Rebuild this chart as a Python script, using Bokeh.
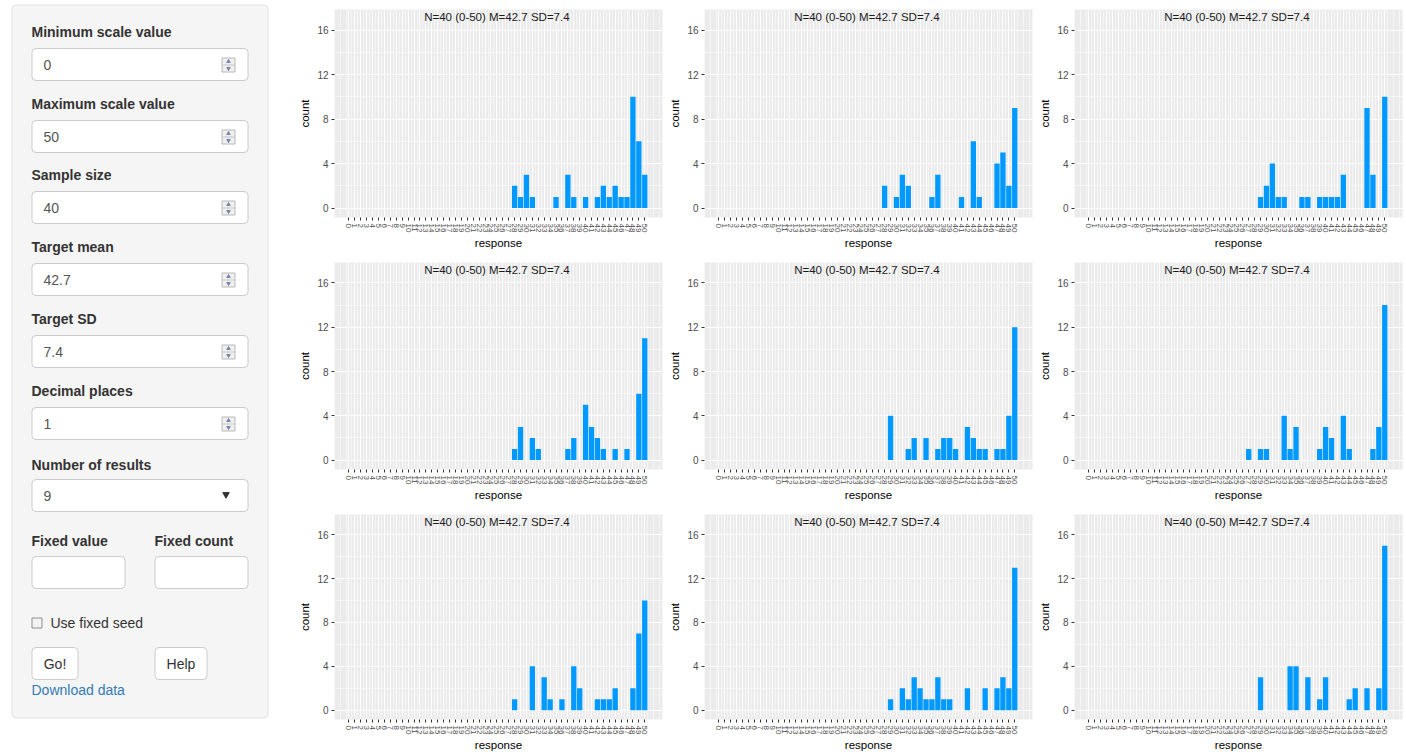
from bokeh.plotting import figure
from bokeh.models import Range1d, FixedTicker, Label, BoxAnnotation
from bokeh.layouts import row, column
from bokeh.core.properties import value
from bokeh.embed import file_html
from bokeh.resources import INLINE

# ---------------- data ----------------
scale_min = 0
scale_max = 50
title_text = "N=40 (0-50) M=42.7 SD=7.4"
y_ticks = [0, 4, 8, 12, 16]
y_minor = [2, 6, 10, 14]

p1_values = [28, 29, 30, 31, 35, 37, 38, 40, 42, 43, 44, 45, 46, 47, 48, 49, 50]
p1_counts = [2, 1, 3, 1, 1, 3, 1, 1, 1, 2, 1, 2, 1, 1, 10, 6, 3]
p2_values = [28, 30, 31, 32, 36, 37, 41, 43, 44, 47, 48, 49, 50]
p2_counts = [2, 1, 3, 2, 1, 3, 1, 6, 1, 4, 5, 2, 9]
p3_values = [29, 30, 31, 32, 33, 36, 37, 39, 40, 41, 42, 43, 47, 48, 50]
p3_counts = [1, 2, 4, 1, 1, 1, 1, 1, 1, 1, 1, 3, 9, 3, 10]
p4_values = [28, 29, 31, 32, 37, 38, 40, 41, 42, 43, 45, 47, 49, 50]
p4_counts = [1, 3, 2, 1, 1, 2, 5, 3, 2, 1, 1, 1, 6, 11]
p5_values = [29, 32, 33, 35, 37, 38, 39, 40, 42, 43, 44, 45, 47, 48, 49, 50]
p5_counts = [4, 1, 2, 2, 1, 2, 2, 1, 3, 2, 1, 1, 1, 1, 4, 12]
p6_values = [27, 29, 30, 33, 34, 35, 39, 40, 41, 43, 44, 48, 49, 50]
p6_counts = [1, 1, 1, 4, 1, 3, 1, 3, 2, 4, 1, 1, 3, 14]
p7_values = [28, 31, 33, 34, 36, 38, 39, 42, 43, 44, 45, 48, 49, 50]
p7_counts = [1, 4, 3, 1, 1, 4, 2, 1, 1, 1, 2, 2, 7, 10]
p8_values = [29, 31, 32, 33, 34, 35, 36, 37, 38, 39, 42, 45, 47, 48, 49, 50]
p8_counts = [1, 2, 1, 3, 2, 1, 1, 3, 1, 1, 2, 2, 2, 3, 2, 13]
p9_values = [29, 34, 35, 37, 39, 40, 44, 45, 47, 49, 50]
p9_counts = [3, 4, 4, 3, 1, 3, 1, 2, 2, 2, 15]

input_labels = ["Minimum scale value", "Maximum scale value", "Sample size",
                "Target mean", "Target SD", "Decimal places"]
input_values = ["0", "50", "40", "42.7", "7.4", "1"]

FONTNAME = "Liberation Sans"
FONT = value(FONTNAME)
BAR = "#0099ff"


def panel(values, counts, height, top_border):
    p = figure(width=370, height=height,
               x_range=Range1d(scale_min - 2.45, scale_max + 3.0),
               y_range=Range1d(-0.85, 17.85),
               output_backend="svg", toolbar_location=None,
               min_border_left=35, min_border_right=4,
               min_border_top=top_border,
               min_border_bottom=height - top_border - 210,
               background_fill_color="#ebebeb", border_fill_color="white",
               outline_line_color=None)
    xt = FixedTicker(ticks=list(range(scale_min, scale_max + 1)),
                     minor_ticks=[i + 0.5 for i in range(scale_min - 3, scale_max + 3)])
    yt = FixedTicker(ticks=y_ticks, minor_ticks=y_minor)
    p.xaxis.ticker = xt
    p.yaxis.ticker = yt
    p.xgrid.ticker = xt
    p.ygrid.ticker = yt
    for g in (p.xgrid, p.ygrid):
        g.grid_line_color = "white"
        g.grid_line_width = 1
        g.minor_grid_line_color = "white"
        g.minor_grid_line_width = 0.5
    for ax in (p.xaxis, p.yaxis):
        ax.axis_line_color = None
        ax.major_tick_line_color = "#333333"
        ax.major_tick_in = 0
        ax.major_tick_out = 3
        ax.minor_tick_line_color = None
        ax.major_label_text_color = "#4d4d4d"
        ax.major_label_text_font = FONTNAME
        ax.axis_label_text_font = FONTNAME
        ax.axis_label_text_font_style = "normal"
        ax.axis_label_text_font_size = "11.5px"
        ax.axis_label_text_color = "#000000"
        ax.major_label_standoff = 2
    p.xaxis.major_label_orientation = "vertical"
    p.xaxis.major_label_text_font_size = "8px"
    p.xaxis.axis_label = "response"
    p.xaxis.axis_label_standoff = 2
    p.yaxis.major_label_text_font_size = "10px"
    p.yaxis.axis_label = "count"
    p.yaxis.axis_label_standoff = 3

    p.vbar(x=values, top=counts, bottom=0, width=0.9,
           fill_color=BAR, line_color=None)
    p.add_layout(Label(x=(scale_min + scale_max) / 2, y=17.15, text=title_text,
                       text_align="center", text_baseline="middle",
                       text_font=FONTNAME, text_font_size="11.5px",
                       text_color="#1a1a1a"))
    return p


panels_data = [(p1_values, p1_counts), (p2_values, p2_counts), (p3_values, p3_counts),
               (p4_values, p4_counts), (p5_values, p5_counts), (p6_values, p6_counts),
               (p7_values, p7_counts), (p8_values, p8_counts), (p9_values, p9_counts)]
row_heights = [252, 252, 250]
row_tops = [9, 10, 10]

rows = []
for r in range(3):
    figs = [panel(*panels_data[r * 3 + c], row_heights[r], row_tops[r]) for c in range(3)]
    rows.append(row(*figs))
grid = column(*rows)

# ---------------- sidebar ----------------
s = figure(width=296, height=754, x_range=Range1d(0, 296), y_range=Range1d(754, 0),
           output_backend="svg", toolbar_location=None, min_border=0,
           x_axis_type=None, y_axis_type=None, outline_line_color=None,
           background_fill_color="white", border_fill_color="white")


def box(l, r, t, b, fill="white", line="#cccccc", radius=4):
    s.add_layout(BoxAnnotation(left=l, right=r, top=t, bottom=b,
                               fill_color=fill, fill_alpha=1,
                               line_color=line, line_alpha=1, line_width=1,
                               border_radius=radius, level="underlay"))


box(11.5, 267.5, 4.5, 717.5, fill="#f5f5f5", line="#e3e3e3")

label_x, label_y, label_t = [], [], []
val_x, val_y, val_t = [], [], []
tops = [48, 120, 191, 263, 335, 407]
for lab, val, t in zip(input_labels, input_values, tops):
    box(31.5, 247.5, t, t + 32)
    label_x.append(31); label_y.append(t - 16.5); label_t.append(lab)
    val_x.append(43); val_y.append(t + 16); val_t.append(val)
    # spinner icon
    s.quad(left=[221.5], right=[234.5], top=[t + 9.5], bottom=[t + 23.5],
           fill_color="#f0f0f0", line_color="#b8b8b8", line_width=1)
    s.segment(x0=[222], x1=[234], y0=[t + 16.5], y1=[t + 16.5], line_color="#c4c4c4", line_width=1)
    s.scatter(x=[228], y=[t + 13], marker="triangle", size=3.5, color="#7588b0")
    s.scatter(x=[228], y=[t + 20], marker="inverted_triangle", size=3.5, color="#7588b0")

# select
label_x += [31, 31, 154]; label_y += [464, 540, 540]
label_t += ["Number of results", "Fixed value", "Fixed count"]
box(31.5, 247.5, 479, 511)
val_x.append(43); val_y.append(495); val_t.append("9")
s.scatter(x=[225.5], y=[494], marker="inverted_triangle", size=6.5, color="#333333")
box(31.5, 124.5, 556, 588)
box(154.5, 247.5, 556, 588)

s.text(x=label_x, y=label_y, text=label_t, text_font=FONT, text_font_size="14px",
       text_font_style="bold", text_color="#333333", text_baseline="middle", text_align="left")
s.text(x=val_x, y=val_y, text=val_t, text_font=FONT, text_font_size="14px",
       text_color="#555555", text_baseline="middle", text_align="left")

# checkbox
s.quad(left=[31.5], right=[41.5], top=[617.5], bottom=[627.5],
       fill_color="#f3f3f3", line_color="#8f8f8f", line_width=1)
s.text(x=[50], y=[622.5], text=["Use fixed seed"], text_font=FONT, text_font_size="14px",
       text_color="#333333", text_baseline="middle", text_align="left")

# buttons
box(31.5, 77.5, 647, 679)
box(154.5, 206.5, 647, 679)
s.text(x=[54.5, 180.5], y=[663, 663], text=["Go!", "Help"], text_font=FONT,
       text_font_size="14px", text_color="#333333", text_baseline="middle", text_align="center")
s.text(x=[31], y=[689.5], text=["Download data"], text_font=FONT, text_font_size="14px",
       text_color="#337ab7", text_baseline="middle", text_align="left")

layout = row(s, grid)
open("out.html", "w").write(file_html(layout, INLINE))
